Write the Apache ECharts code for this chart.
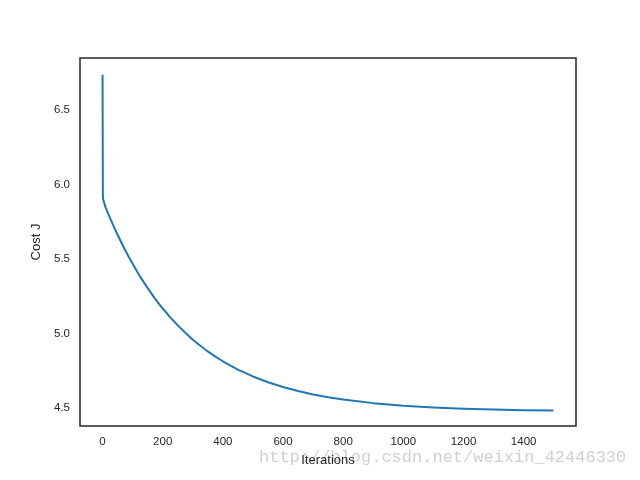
<!DOCTYPE html>
<html>
<head>
<meta charset="utf-8">
<script src="https://cdn.jsdelivr.net/npm/echarts@6/dist/echarts.min.js"></script>
<style>html,body{margin:0;padding:0;background:#fff}#c{width:640px;height:480px}</style>
</head>
<body>
<div id="c"></div>
<script>
// Data
var iterations = [0, 1, 2, 3, 10, 25, 37, 50, 62, 75, 87, 100, 125, 150, 175, 200, 225, 250, 275, 300, 325, 350, 375, 400, 450, 500, 550, 600, 650, 700, 750, 800, 900, 1000, 1100, 1200, 1300, 1400, 1499];
var costJ = [6.737, 5.931, 5.901, 5.895, 5.847, 5.775, 5.720, 5.663, 5.613, 5.561, 5.515, 5.468, 5.382, 5.305, 5.233, 5.168, 5.109, 5.055, 5.005, 4.959, 4.918, 4.880, 4.845, 4.814, 4.758, 4.712, 4.673, 4.641, 4.614, 4.591, 4.572, 4.557, 4.533, 4.516, 4.504, 4.495, 4.490, 4.486, 4.483];
var xTicks = [0, 200, 400, 600, 800, 1000, 1200, 1400];
var yTicks = [4.5, 5.0, 5.5, 6.0, 6.5];
var xLabel = 'Iterations';
var yLabel = 'Cost J';
var watermark = 'http://blog.csdn.net/weixin_42446330';

var pts = iterations.map(function (it, i) { return [it, costJ[i]]; });
var chart = echarts.init(document.getElementById('c'), null, {renderer: 'canvas'});
var font = 'Liberation Sans, Arial, sans-serif';
chart.setOption({
  backgroundColor: '#ffffff',
  animation: false,
  grid: {left: 80, right: 64, top: 58, bottom: 54, show: true, borderColor: '#262626', borderWidth: 1.5, backgroundColor: 'transparent'},
  xAxis: {
    type: 'value', min: -75, max: 1574,
    axisLine: {show: false}, axisTick: {show: false}, splitLine: {show: false},
    axisLabel: {
      color: '#262626', fontSize: 11.5, fontFamily: font, margin: 10,
      customValues: xTicks,
      formatter: function (v) { return xTicks.indexOf(v) >= 0 ? String(v) : ''; }
    },
    name: xLabel, nameLocation: 'middle', nameGap: 28,
    nameTextStyle: {color: '#262626', fontSize: 13, fontFamily: font}
  },
  yAxis: {
    type: 'value', min: 4.3795, max: 6.8495,
    axisLine: {show: false}, axisTick: {show: false}, splitLine: {show: false},
    axisLabel: {
      color: '#262626', fontSize: 11.5, fontFamily: font, margin: 10,
      customValues: yTicks,
      formatter: function (v) { return v.toFixed(1); }
    },
    name: yLabel, nameLocation: 'middle', nameGap: 37, nameRotate: 90,
    nameTextStyle: {color: '#262626', fontSize: 13, fontFamily: font}
  },
  graphic: [{
    type: 'text', left: 259, top: 449, z: -10, silent: true,
    style: {text: watermark, fill: '#d0d0d0', font: '17px "Liberation Mono", monospace'}
  }],
  series: [{
    type: 'line', data: pts, showSymbol: false, symbol: 'none',
    lineStyle: {color: '#1f77b4', width: 2, join: 'round'}, z: 3
  }]
});
</script>
</body>
</html>
